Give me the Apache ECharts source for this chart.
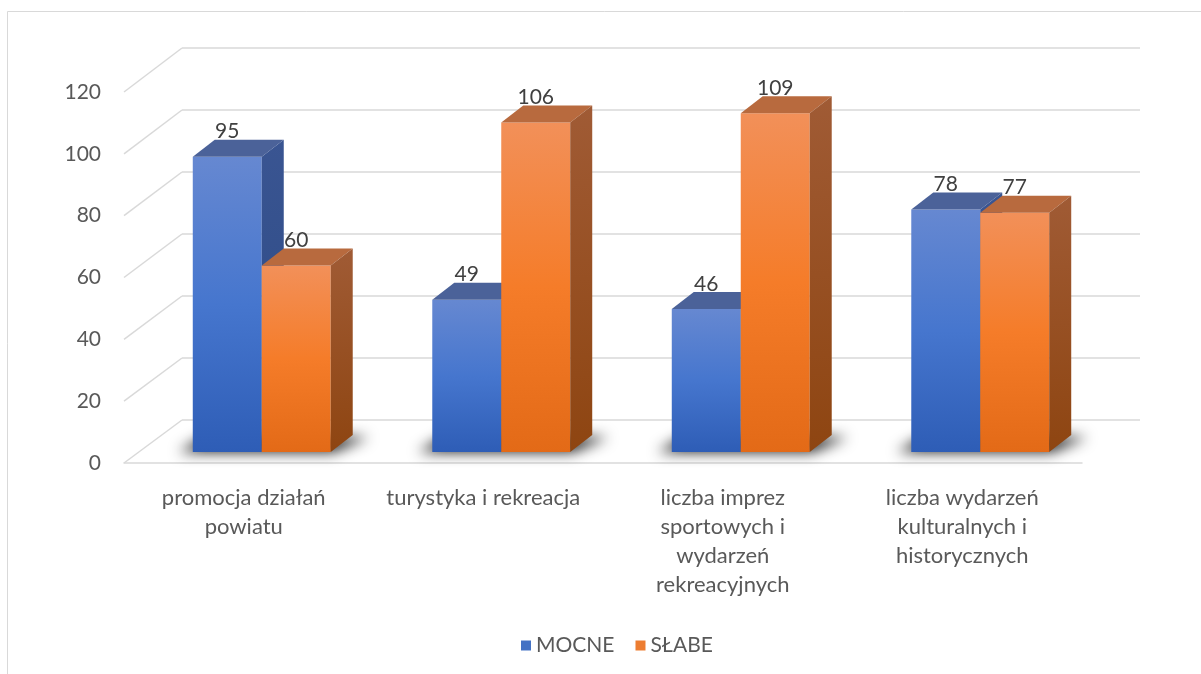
<!DOCTYPE html>
<html>
<head>
<meta charset="utf-8">
<script src="https://cdn.jsdelivr.net/npm/echarts@6/dist/echarts.min.js"></script>
<style>
  html, body { margin: 0; padding: 0; background: #ffffff; }
  #chart { width: 1201px; height: 674px; }
</style>
</head>
<body>
<div id="chart"></div>
<script>
// Categories (wrapped the way they appear under the floor)
const categories = [
  'promocja działań\npowiatu',
  'turystyka i rekreacja',
  'liczba imprez\nsportowych i\nwydarzeń\nrekreacyjnych',
  'liczba wydarzeń\nkulturalnych i\nhistorycznych'
];
const seriesNames = ['MOCNE', 'SŁABE'];
const mocne = [95, 49, 46, 78];
const slabe = [60, 106, 109, 77];
// value axis: 0 … 120 every 20
const valueTicks = [0, 20, 40, 60, 80, 100, 120];

const FONT = 'Lato, "Open Sans", sans-serif';
const DX = 22, DY = -17;      // depth of a bar block
const BAR_SHARE = 0.288;      // one bar's width relative to the category band

const palettes = [
  { front: ['#6688D1', '#4676CE', '#2E5DB6'], side: ['#3A5592', '#2A4983'], top: '#4B6299', legend: '#4472C4' },
  { front: ['#F29059', '#F57C29', '#E36A17'], side: ['#A05B35', '#8E4511'], top: '#B86A3E', legend: '#ED7D31' }
];

function vGrad(stops) {
  return new echarts.graphic.LinearGradient(0, 0, 0, 1,
    stops.map((c, i) => ({ offset: i / (stops.length - 1), color: c })));
}

// 3D-looking column: front face, top face, right side face and its value label
function makeBarRenderer(slot) {
  const pal = palettes[slot];
  return function (params, api) {
    const ci = api.value(0), v = api.value(1);
    const p0 = api.coord([ci, 0]);
    const p1 = api.coord([ci, v]);
    const w = api.size([1, 0])[0] * BAR_SHARE;
    const x0 = p0[0] - w + slot * w, x1 = x0 + w;
    const yb = p0[1], yt = p1[1];
    return {
      type: 'group',
      children: [
        { type: 'rect', shape: { x: x0, y: yt, width: w, height: yb - yt },
          style: { fill: vGrad(pal.front) } },
        { type: 'polygon', shape: { points: [[x0, yt], [x0 + DX, yt + DY], [x1 + DX, yt + DY], [x1, yt]] },
          style: { fill: pal.top } },
        { type: 'polygon', shape: { points: [[x1, yt], [x1 + DX, yt + DY], [x1 + DX, yb + DY], [x1, yb]] },
          style: { fill: vGrad(pal.side) } },
        { type: 'text', z2: 50, x: (x0 + x1) / 2, y: yt + DY - 8,
          style: { text: String(v), align: 'center', verticalAlign: 'middle',
                   fill: '#404040', fontSize: 21, fontFamily: FONT } }
      ]
    };
  };
}

// soft floor shadow under each pair of columns
const SHIFT = 3000;
function renderShadow(params, api) {
  const ci = api.value(0);
  const p0 = api.coord([ci, 0]);
  const w = api.size([1, 0])[0] * BAR_SHARE;
  const x0 = p0[0] - w, x1 = p0[0] + w, yb = p0[1];
  const pts = [[x0 - 14, yb], [x1 + 2, yb], [x1 + DX + 16, yb + DY + 2], [x0 + DX - 10, yb + DY + 2]]
    .map(p => [p[0] - SHIFT, p[1]]);
  return {
    type: 'polygon',
    shape: { points: pts },
    style: { fill: '#000', shadowBlur: 14, shadowOffsetX: SHIFT, shadowColor: 'rgba(0,0,0,0.9)' }
  };
}

const hiddenCat = { type: 'category', data: categories, show: false };
const valueAxisBase = { type: 'value', min: valueTicks[0], max: valueTicks[valueTicks.length - 1],
                        interval: valueTicks[1] - valueTicks[0] };

const chart = echarts.init(document.getElementById('chart'));
chart.setOption({
  animation: false,
  backgroundColor: '#ffffff',
  grid: [
    { left: 142, right: 101, top: 79, bottom: 222 },   // plane of the column fronts
    { left: 124, right: 119, top: 92, bottom: 211 },   // front edge of the floor
    { left: 182, right: 61, top: 48, bottom: 254 }     // back wall
  ],
  xAxis: [
    Object.assign({ gridIndex: 0 }, hiddenCat),
    {
      gridIndex: 1, type: 'category', data: categories,
      axisLine: { show: true, lineStyle: { color: '#D9D9D9', width: 1.5 } },
      axisTick: { show: false },
      axisLabel: { interval: 0, margin: 20, color: '#595959', fontSize: 22, lineHeight: 29, fontFamily: FONT }
    },
    Object.assign({ gridIndex: 2 }, hiddenCat)
  ],
  yAxis: [
    Object.assign({ gridIndex: 0, show: false }, valueAxisBase),
    Object.assign({
      gridIndex: 1,
      axisLine: { show: false }, axisTick: { show: false }, splitLine: { show: false },
      axisLabel: { margin: 23, color: '#595959', fontSize: 21, fontFamily: FONT }
    }, valueAxisBase),
    Object.assign({
      gridIndex: 2,
      axisLine: { show: false }, axisTick: { show: false }, axisLabel: { show: false },
      splitLine: { show: true, lineStyle: { color: '#D9D9D9', width: 1.5 } }
    }, valueAxisBase)
  ],
  legend: {
    data: seriesNames,
    left: 516, top: 630,
    icon: 'rect', itemWidth: 10, itemHeight: 10, itemGap: 21,
    textStyle: { color: '#595959', fontSize: 21, fontFamily: FONT }
  },
  series: [
    {
      type: 'custom', name: 'shadow', xAxisIndex: 0, yAxisIndex: 0, z: 1,
      silent: true, renderItem: renderShadow,
      data: categories.map((c, i) => [i, 0])
    },
    {
      type: 'custom', name: seriesNames[0], xAxisIndex: 0, yAxisIndex: 0, z: 2,
      itemStyle: { color: palettes[0].legend },
      renderItem: makeBarRenderer(0),
      encode: { x: 0, y: 1 },
      data: mocne.map((v, i) => [i, v])
    },
    {
      type: 'custom', name: seriesNames[1], xAxisIndex: 0, yAxisIndex: 0, z: 2,
      itemStyle: { color: palettes[1].legend },
      renderItem: makeBarRenderer(1),
      encode: { x: 0, y: 1 },
      data: slabe.map((v, i) => [i, v])
    }
  ]
});

// side-wall lines joining each tick on the floor front to the same tick on the back wall
const graphics = [{
  type: 'rect', silent: true,
  shape: { x: 7.5, y: 11.5, width: 1200, height: 700 },
  style: { fill: 'none', stroke: '#D9D9D9', lineWidth: 1 }
}];
valueTicks.forEach(v => {
  const f0 = chart.convertToPixel({ gridIndex: 1 }, [0, v]);
  const f1 = chart.convertToPixel({ gridIndex: 1 }, [1, v]);
  const b0 = chart.convertToPixel({ gridIndex: 2 }, [0, v]);
  const b1 = chart.convertToPixel({ gridIndex: 2 }, [1, v]);
  const fx = f0[0] - (f1[0] - f0[0]) / 2;
  const bx = b0[0] - (b1[0] - b0[0]) / 2;
  graphics.push({
    type: 'line', silent: true, z: 0,
    shape: { x1: fx, y1: f0[1], x2: bx, y2: b0[1] },
    style: { stroke: '#D9D9D9', lineWidth: 1.5 }
  });
});
chart.setOption({ graphic: graphics });
</script>
</body>
</html>
